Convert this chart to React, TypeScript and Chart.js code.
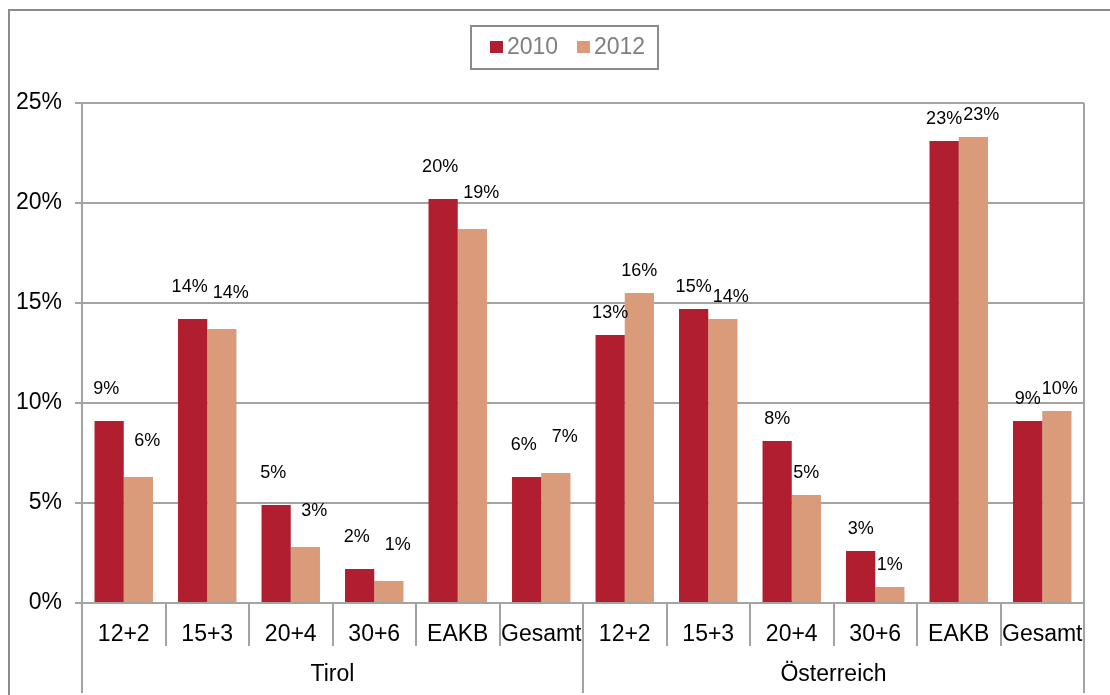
import React, { useEffect, useRef } from "react";
import { Chart, registerables } from "chart.js";

Chart.register(...registerables);

const categories = ["12+2", "15+3", "20+4", "30+6", "EAKB", "Gesamt", "12+2", "15+3", "20+4", "30+6", "EAKB", "Gesamt"];
const groups = ["Tirol", "Österreich"];
const seriesNames = ["2010", "2012"];
const values2010 = [9.1, 14.2, 4.9, 1.7, 20.2, 6.3, 13.4, 14.7, 8.1, 2.6, 23.1, 9.1];
const values2012 = [6.3, 13.7, 2.8, 1.1, 18.7, 6.5, 15.5, 14.2, 5.4, 0.8, 23.3, 9.6];
const yTicks = [0, 5, 10, 15, 20, 25];

const RED = "#B01E2F";
const TAN = "#D99B7A";
const GRID = "#A3A3A3";
const FONT = "'Liberation Sans', Arial, sans-serif";

const decorPlugin = {
  id: "decor",
  afterDraw(chart: any) {
    const ctx = chart.ctx;
    const area = chart.chartArea;
    ctx.save();

    // outer chart border
    ctx.strokeStyle = "#8C8C8C";
    ctx.lineWidth = 2;
    ctx.strokeRect(9, 10, chart.width + 20, chart.height + 20);

    // legend
    ctx.strokeRect(471, 26, 187, 43);
    ctx.font = `23px ${FONT}`;
    ctx.textBaseline = "middle";
    ctx.textAlign = "left";
    const colors = [RED, TAN];
    const starts = [490, 577];
    seriesNames.forEach((name, i) => {
      ctx.fillStyle = colors[i];
      ctx.fillRect(starts[i], 41, 13, 12);
      ctx.fillStyle = "#7F7F7F";
      ctx.fillText(name, starts[i] + 17, 48);
    });

    // category separators and group separators
    const n = categories.length;
    const cw = (area.right - area.left) / n;
    const groupSize = n / groups.length;
    ctx.strokeStyle = GRID;
    ctx.lineWidth = 2;
    for (let i = 0; i <= n; i++) {
      const px = Math.round(area.left + i * cw);
      const isGroup = i % groupSize === 0;
      ctx.beginPath();
      ctx.moveTo(px, isGroup && (i === 0 || i === n) ? area.top : area.bottom);
      ctx.lineTo(px, isGroup ? area.bottom + 90 : area.bottom + 43);
      ctx.stroke();
    }

    // group labels
    ctx.fillStyle = "#000";
    ctx.textAlign = "center";
    ctx.font = `23px ${FONT}`;
    groups.forEach((g, gi) => {
      const cx = area.left + (gi * groupSize + groupSize / 2) * cw;
      ctx.fillText(g, cx, area.bottom + 72);
    });

    // data labels (second series label nudged right if it would collide)
    ctx.font = `18px ${FONT}`;
    ctx.fillStyle = "#000";
    const m0 = chart.getDatasetMeta(0);
    const m1 = chart.getDatasetMeta(1);
    const d0 = chart.data.datasets[0].data;
    const d1 = chart.data.datasets[1].data;
    for (let idx = 0; idx < n; idx++) {
      const tirol = idx < groupSize;
      const b0 = m0.data[idx];
      const b1 = m1.data[idx];
      const t0 = Math.round(d0[idx]) + "%";
      const t1 = Math.round(d1[idx]) + "%";
      let x0 = b0.x + (tirol ? -3 : 0);
      const y0 = b0.y - (tirol ? 32 : 22);
      let x1 = b1.x + (tirol ? 9 : 0);
      const y1 = b1.y - (tirol ? 36 : 22);
      const w0 = ctx.measureText(t0).width;
      const w1 = ctx.measureText(t1).width;
      if (Math.abs(y1 - y0) < 17) {
        const minX1 = x0 + w0 / 2 + 1 + w1 / 2;
        if (x1 < minX1) x1 = minX1;
      }
      ctx.fillText(t0, x0, y0);
      ctx.fillText(t1, x1, y1);
    }

    ctx.restore();
  },
};

export default function App() {
  const ref = useRef<HTMLCanvasElement | null>(null);
  useEffect(() => {
    if (!ref.current) return;
    const chart = new Chart(ref.current, {
      type: "bar",
      data: {
        labels: categories,
        datasets: [
          { label: seriesNames[0], data: values2010, backgroundColor: RED, borderWidth: 0 },
          { label: seriesNames[1], data: values2012, backgroundColor: TAN, borderWidth: 0 },
        ],
      },
      options: {
        responsive: false,
        animation: false,
        layout: { padding: { top: 103, right: 26, left: 0, bottom: 0 } },
        plugins: { legend: { display: false }, tooltip: { enabled: false } },
        datasets: { bar: { categoryPercentage: 0.7, barPercentage: 1.0 } },
        scales: {
          x: {
            offset: true,
            grid: { display: false, drawTicks: false },
            border: { display: false },
            ticks: { color: "#000", font: { family: FONT, size: 23 }, padding: 18, maxRotation: 0, autoSkip: false },
            afterFit: (s: any) => { s.height = 92; },
          },
          y: {
            min: 0,
            max: 25,
            afterBuildTicks: (s: any) => { s.ticks = yTicks.map((v) => ({ value: v })); },
            grid: { color: GRID, lineWidth: 2, tickLength: 7, tickColor: GRID },
            border: { display: true, color: GRID, width: 2 },
            ticks: { color: "#000", font: { family: FONT, size: 23 }, padding: 13, callback: (v: any) => v + "%" },
            afterFit: (s: any) => { s.width = 82; },
          },
        },
      },
      plugins: [decorPlugin],
    });
    return () => chart.destroy();
  }, []);
  return (
    <div style={{ position: "fixed", left: 0, top: 0, width: 1110, height: 695, background: "#fff" }}>
      <canvas ref={ref} width={1110} height={695} />
    </div>
  );
}
